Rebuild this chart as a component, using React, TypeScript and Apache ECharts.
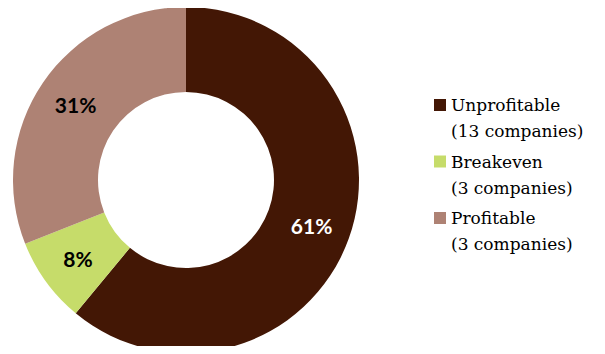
import React, { useEffect, useRef } from "react";
import * as echarts from "echarts";

const categories = ["Unprofitable", "Breakeven", "Profitable"];
const companyCounts = ["13 companies", "3 companies", "3 companies"];
const shares = [61, 8, 31];
const colors = ["#431705", "#c6dc6a", "#ae8274"];
const labelColors = ["#ffffff", "#000000", "#000000"];

export default function App() {
  const ref = useRef<HTMLDivElement>(null);
  useEffect(() => {
    if (!ref.current) return;
    const chart = echarts.init(ref.current, undefined, { renderer: "svg" });
    chart.setOption({
      animation: false,
      backgroundColor: "#ffffff",
      legend: {
        orient: "vertical",
        left: 434,
        top: 66,
        padding: 0,
        itemWidth: 12,
        itemHeight: 12,
        itemGap: -21.5,
        icon: "rect",
        data: categories,
        formatter: (name: string) => {
          const i = categories.indexOf(name);
          return ` \n${name}\n(${companyCounts[i]})`;
        },
        textStyle: {
          fontFamily: "DejaVu Serif",
          fontSize: 17,
          color: "#000000",
          lineHeight: 26,
        },
      },
      series: [
        {
          type: "pie",
          center: [186, 180],
          radius: [88, 173],
          startAngle: 90,
          clockwise: true,
          avoidLabelOverlap: false,
          data: categories.map((c, i) => ({
            name: c,
            value: shares[i],
            itemStyle: { color: colors[i] },
            label: { color: labelColors[i] },
          })),
          label: {
            show: true,
            position: "inside",
            formatter: "{c}%",
            fontFamily: "Lato",
            fontWeight: "bold",
            fontSize: 21,
          },
          labelLine: { show: false },
          emphasis: { disabled: true },
        },
      ],
    });
    return () => chart.dispose();
  }, []);
  return <div ref={ref} style={{ width: 605, height: 354, margin: -8 }} />;
}
